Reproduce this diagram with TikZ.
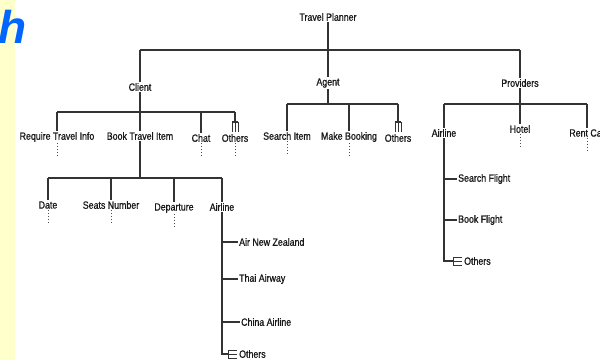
\documentclass[tikz,border=0pt]{standalone}
\usepackage{fontspec}
\setmainfont{Liberation Sans}
\newfontfamily\narrowfont[FakeStretch=0.84,FakeBold=0.9]{Liberation Sans}
\begin{document}
\begin{tikzpicture}[x=1pt,y=-1pt,
  lbl/.style={font=\narrowfont\fontsize{10.5}{12}\selectfont, inner sep=1pt, text=black!90},
  tline/.style={line width=1.5pt, draw=black!80},
  dotline/.style={line width=1pt, draw=black!70, dash pattern=on 1pt off 2pt},
  ]
\clip (0,0) rectangle (600,360);
\useasboundingbox (0,0) rectangle (600,360);
\fill[fill={rgb,255:red,255;green,255;blue,204}] (0,0) rectangle (15,360);
\node[font=\bfseries\itshape\fontsize{46}{50}\selectfont, text={rgb,255:red,0;green,102;blue,255}, anchor=base east, inner sep=0pt] (hh) at (27,43) {h};

% nodes
\node[lbl] (tp) at (328,17) {Travel Planner};
\node[lbl] (client) at (140,87) {Client};
\node[lbl] (agent) at (328,83) {Agent};
\node[lbl] (prov) at (520,83) {Providers};

\node[lbl] (req) at (57,137) {Require Travel Info};
\node[lbl] (bti) at (140,136) {Book Travel Item};
\node[lbl] (chat) at (201,138) {Chat};
\node[lbl] (cothers) at (235,138) {Others};

\node[lbl] (si) at (287,136) {Search Item};
\node[lbl] (mb) at (349,137) {Make Booking};
\node[lbl] (aothers) at (398,138) {Others};

\node[lbl] (pair) at (444,133) {Airline};
\node[lbl] (hotel) at (520,129) {Hotel};
\node[lbl] (rent) at (587,133) {Rent Car};

\node[lbl] (date) at (48,205) {Date};
\node[lbl] (seats) at (111,205) {Seats Number};
\node[lbl] (dep) at (174,208) {Departure};
\node[lbl] (bair) at (222,207) {Airline};

\node[lbl, anchor=west] (anz) at (238,242) {Air New Zealand};
\node[lbl, anchor=west] (thai) at (238,279) {Thai Airway};
\node[lbl, anchor=west] (china) at (240,322) {China Airline};
\node[lbl, anchor=west] (bothers) at (238,354) {Others};

\node[lbl, anchor=west] (sf) at (457,179) {Search Flight};
\node[lbl, anchor=west] (bf) at (457,220) {Book Flight};
\node[lbl, anchor=west] (pothers) at (463,261) {Others};

% bus coordinates
\coordinate (rb) at (0,50);
\coordinate (cb) at (0,112);
\coordinate (ab) at (0,104);
\coordinate (pb) at (0,104);
\coordinate (bb) at (0,178);

% root
\draw[tline] (tp.south) -- (tp |- rb);
\draw[tline] (client |- rb) -- (prov |- rb);
\draw[tline] (client |- rb) -- (client.north);
\draw[tline] (agent |- rb) -- (agent.north);
\draw[tline] (prov |- rb) -- (prov.north);

% client
\draw[tline] (client.south) -- (client |- cb);
\draw[tline] (req |- cb) -- (cothers |- cb);
\draw[tline] (req |- cb) -- (req.north);
\draw[tline] (bti |- cb) -- (bti.north);
\draw[tline] (chat |- cb) -- (chat.north);
\draw[tline] (cothers |- cb) -- ([yshift=11pt]cothers.north);
\draw[tline] ([xshift=-3pt,yshift=11pt]cothers.north) -- ([xshift=3pt,yshift=11pt]cothers.north);
\foreach \d in {-3,0,3} \draw[line width=1pt, draw=black!80] ([xshift=\d pt,yshift=11pt]cothers.north) -- ([xshift=\d pt,yshift=1pt]cothers.north);

% agent
\draw[tline] (agent.south) -- (agent |- ab);
\draw[tline] (si |- ab) -- (aothers |- ab);
\draw[tline] (si |- ab) -- (si.north);
\draw[tline] (mb |- ab) -- (mb.north);
\draw[tline] (aothers |- ab) -- ([yshift=11pt]aothers.north);
\draw[tline] ([xshift=-3pt,yshift=11pt]aothers.north) -- ([xshift=3pt,yshift=11pt]aothers.north);
\foreach \d in {-3,0,3} \draw[line width=1pt, draw=black!80] ([xshift=\d pt,yshift=11pt]aothers.north) -- ([xshift=\d pt,yshift=1pt]aothers.north);

% providers
\draw[tline] (prov.south) -- (prov |- pb);
\draw[tline] (pair |- pb) -- (rent |- pb);
\draw[tline] (pair |- pb) -- (pair.north);
\draw[tline] (hotel |- pb) -- (hotel.north);
\draw[tline] (rent |- pb) -- (rent.north);
\draw[tline] (pair.south) |- (sf.west);
\draw[tline] (pair.south) |- (bf.west);
\draw[tline] (pair.south) |- ([xshift=-10pt]pothers.west);
\draw[line width=1pt, draw=black!80] ([xshift=-10pt,yshift=4pt]pothers.west) -- ([xshift=-10pt,yshift=-4pt]pothers.west);
\foreach \d in {4,0,-4} \draw[line width=1pt, draw=black!80] ([xshift=-10pt,yshift=\d pt]pothers.west) -- ([xshift=-1pt,yshift=\d pt]pothers.west);

% book travel item
\draw[tline] (bti.south) -- (bti |- bb);
\draw[tline] (date |- bb) -- (bair |- bb);
\draw[tline] (date |- bb) -- (date.north);
\draw[tline] (seats |- bb) -- (seats.north);
\draw[tline] (dep |- bb) -- (dep.north);
\draw[tline] (bair |- bb) -- (bair.north);
\draw[tline] (bair.south) |- (anz.west);
\draw[tline] (bair.south) |- (thai.west);
\draw[tline] (bair.south) |- (china.west);
\draw[tline] (bair.south) |- ([xshift=-10pt]bothers.west);
\draw[line width=1pt, draw=black!80] ([xshift=-10pt,yshift=4pt]bothers.west) -- ([xshift=-10pt,yshift=-4pt]bothers.west);
\foreach \d in {4,0,-4} \draw[line width=1pt, draw=black!80] ([xshift=-10pt,yshift=\d pt]bothers.west) -- ([xshift=-1pt,yshift=\d pt]bothers.west);

% dotted continuations
\foreach \n in {req,chat,cothers,si,mb,hotel,rent,date,seats,dep}
  \draw[dotline] (\n.south) -- ++(0,14);
\end{tikzpicture}
\end{document}
